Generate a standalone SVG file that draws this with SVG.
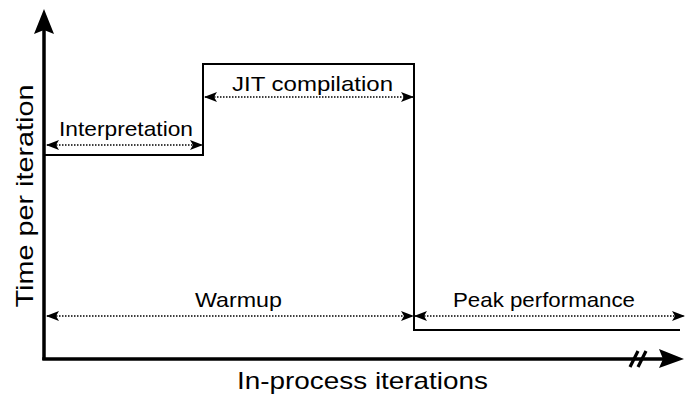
<svg xmlns="http://www.w3.org/2000/svg" width="691" height="394" viewBox="0 0 691 394">
<defs>
<marker id="ah" markerWidth="13" markerHeight="10" refX="12" refY="5" orient="auto-start-reverse" markerUnits="userSpaceOnUse">
<path d="M0,0 L13,5 L0,10 L3,5 Z" fill="#000"/>
</marker>
</defs>
<style>
.lbl{font-family:"Liberation Sans",Arial,sans-serif;font-size:21px;fill:#000;text-anchor:middle}
.ax{font-family:"Liberation Sans",Arial,sans-serif;font-size:24px;fill:#000;text-anchor:middle}
.dim{stroke:#000;stroke-width:1.5;stroke-dasharray:1.5 1.5;fill:none}
</style>
<rect width="691" height="394" fill="#fff"/>
<g id="axes">
<line x1="44" y1="360" x2="44" y2="30" stroke="#000" stroke-width="3.5"/>
<path d="M44,9 L54,34 L44,30 L34,34 Z" fill="#000"/>
<line x1="42.3" y1="359" x2="664" y2="359" stroke="#000" stroke-width="3.5"/>
<path d="M684,359 L659,349 L663,359 L659,368 Z" fill="#000"/>
<line x1="630" y1="367" x2="638" y2="351" stroke="#000" stroke-width="3.2"/>
<line x1="638" y1="367" x2="646" y2="351" stroke="#000" stroke-width="3.2"/>
</g>
<g id="curve">
<polyline points="44,155 203,155 203,64 414,64 414,330 680,330" fill="none" stroke="#000" stroke-width="2"/>
</g>
<g id="connectors">
<line class="dim" x1="47" y1="145" x2="202" y2="145" marker-start="url(#ah)" marker-end="url(#ah)"/>
<line class="dim" x1="205" y1="97" x2="413" y2="97" marker-start="url(#ah)" marker-end="url(#ah)"/>
<line class="dim" x1="47" y1="316" x2="413" y2="316" marker-start="url(#ah)" marker-end="url(#ah)"/>
<line class="dim" x1="415" y1="316" x2="684" y2="316" marker-start="url(#ah)" marker-end="url(#ah)"/>
</g>
<g id="labels">
<text class="lbl" x="126" y="136" textLength="134" lengthAdjust="spacingAndGlyphs">Interpretation</text>
<text class="lbl" x="312.5" y="91" textLength="161" lengthAdjust="spacingAndGlyphs">JIT compilation</text>
<text class="lbl" x="238.5" y="307" textLength="87" lengthAdjust="spacingAndGlyphs">Warmup</text>
<text class="lbl" x="544" y="307" textLength="182" lengthAdjust="spacingAndGlyphs">Peak performance</text>
<text class="ax" x="362.5" y="389" textLength="251" lengthAdjust="spacingAndGlyphs">In-process iterations</text>
<text class="ax" transform="translate(33,196) rotate(-90)" x="0" y="0" textLength="223" lengthAdjust="spacingAndGlyphs">Time per iteration</text>
</g>
</svg>
